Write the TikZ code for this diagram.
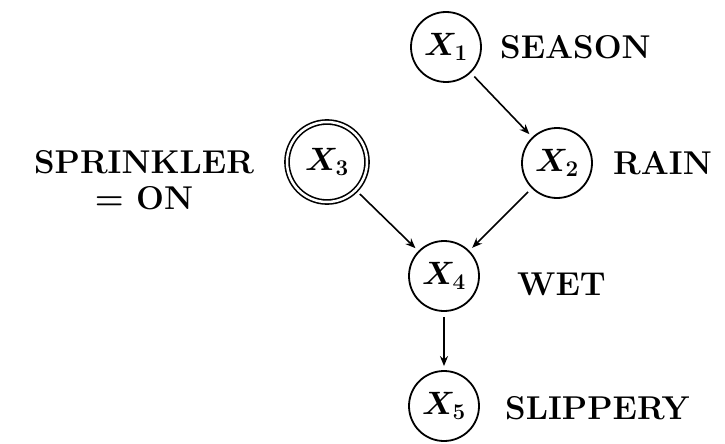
\documentclass[tikz,border=0pt]{standalone}
\usepackage{fontspec}
\usepackage{graphicx}
\usetikzlibrary{arrows.meta}
\newcommand{\vx}[1]{\scalebox{1.3}{\boldmath$X_{#1}$}}
\begin{document}
\begin{tikzpicture}[x=1pt,y=1pt,
  var/.style={circle,draw,line width=1.8pt,minimum size=70pt,inner sep=0pt,font=\fontsize{24}{30}\selectfont},
  obs/.style={circle,draw,line width=1.6pt,double,double distance=2.5pt,minimum size=80pt,inner sep=0pt,font=\fontsize{24}{30}\selectfont},
  lab/.style={font=\fontsize{33}{36}\selectfont\bfseries,inner sep=0pt},
  arr/.style={line width=1.6pt,-{Stealth[length=10pt,width=8pt]},shorten <=5pt,shorten >=4pt}]
\useasboundingbox (0,0) rectangle (725,-444);
\node[var] (x1) at (446,-47) {\vx{1}};
\node[var] (x2) at (557,-163) {\vx{2}};
\node[obs] (x3) at (327,-162) {\vx{3}};
\node[var] (x4) at (444,-276) {\vx{4}};
\node[var] (x5) at (444,-406) {\vx{5}};
\node[lab,anchor=west] (l1) at (500,-47) {SEASON};
\node[lab,anchor=west] (l2) at (613,-163) {RAIN};
\node[lab,align=center] (l3) at (144,-180) {SPRINKLER\\= ON};
\node[lab,anchor=west] (l4) at (517,-284) {WET};
\node[lab,anchor=west] (l5) at (505,-408) {SLIPPERY};
\draw[arr] (x1) -- (x2);
\draw[arr] (x3) -- (x4);
\draw[arr] (x2) -- (x4);
\draw[arr] (x4) -- (x5);
\end{tikzpicture}
\end{document}
